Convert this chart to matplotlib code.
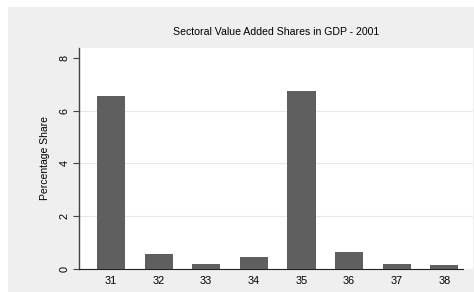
import matplotlib
matplotlib.use("Agg")
import matplotlib.pyplot as plt
from matplotlib.patches import Rectangle

categories = ["31", "32", "33", "34", "35", "36", "37", "38"]
values = [6.56, 0.58, 0.20, 0.44, 6.74, 0.63, 0.18, 0.15]
yticks = [0, 2, 4, 6, 8]

plt.rcParams['font.family'] = ['Liberation Sans', 'DejaVu Sans']

W, H = 474, 292
fig = plt.figure(figsize=(W/100, H/100), dpi=100, facecolor='white')
fig.patches.append(Rectangle((8/W, 0), 1 - 8/W, 1 - 7/H, transform=fig.transFigure,
                             facecolor='#efefef', edgecolor='none', zorder=-10))

ax = fig.add_axes([79/W, (H-269)/H, (473-79)/W, (269-48)/H])
ax.set_facecolor('white')
x = [int(c) for c in categories]
ax.bar(x, values, width=0.59, color='#5f5f5f', zorder=3)
ax.set_xlim(30.33, 38.6)
ax.set_ylim(0, 8.37)
for g in [2, 4, 6]:
    ax.axhline(g, color='#e8e8e8', lw=0.8, zorder=1)
ax.set_xticks(x)
ax.set_xticklabels(categories)
ax.set_yticks(yticks)
ax.set_yticklabels([str(t) for t in yticks], rotation=90, va='center')
ax.tick_params(axis='both', labelsize=7.8, length=4, width=0.8, color='#444444', pad=3)
ax.tick_params(axis='x', length=0, pad=5)
for s in ['top', 'right']:
    ax.spines[s].set_visible(False)
ax.spines['left'].set_color('#444444')
ax.spines['left'].set_linewidth(1.0)
ax.spines['bottom'].set_color('#222222')
ax.spines['bottom'].set_bounds(30.33, 38.38)
ax.set_ylabel('Percentage Share', fontsize=7.5, labelpad=7)
fig.text(276/W, 1 - 32/H, 'Sectoral Value Added Shares in GDP - 2001', ha='center', va='center', fontsize=7.6)

fig.savefig('out.png', dpi=100, facecolor='white')
